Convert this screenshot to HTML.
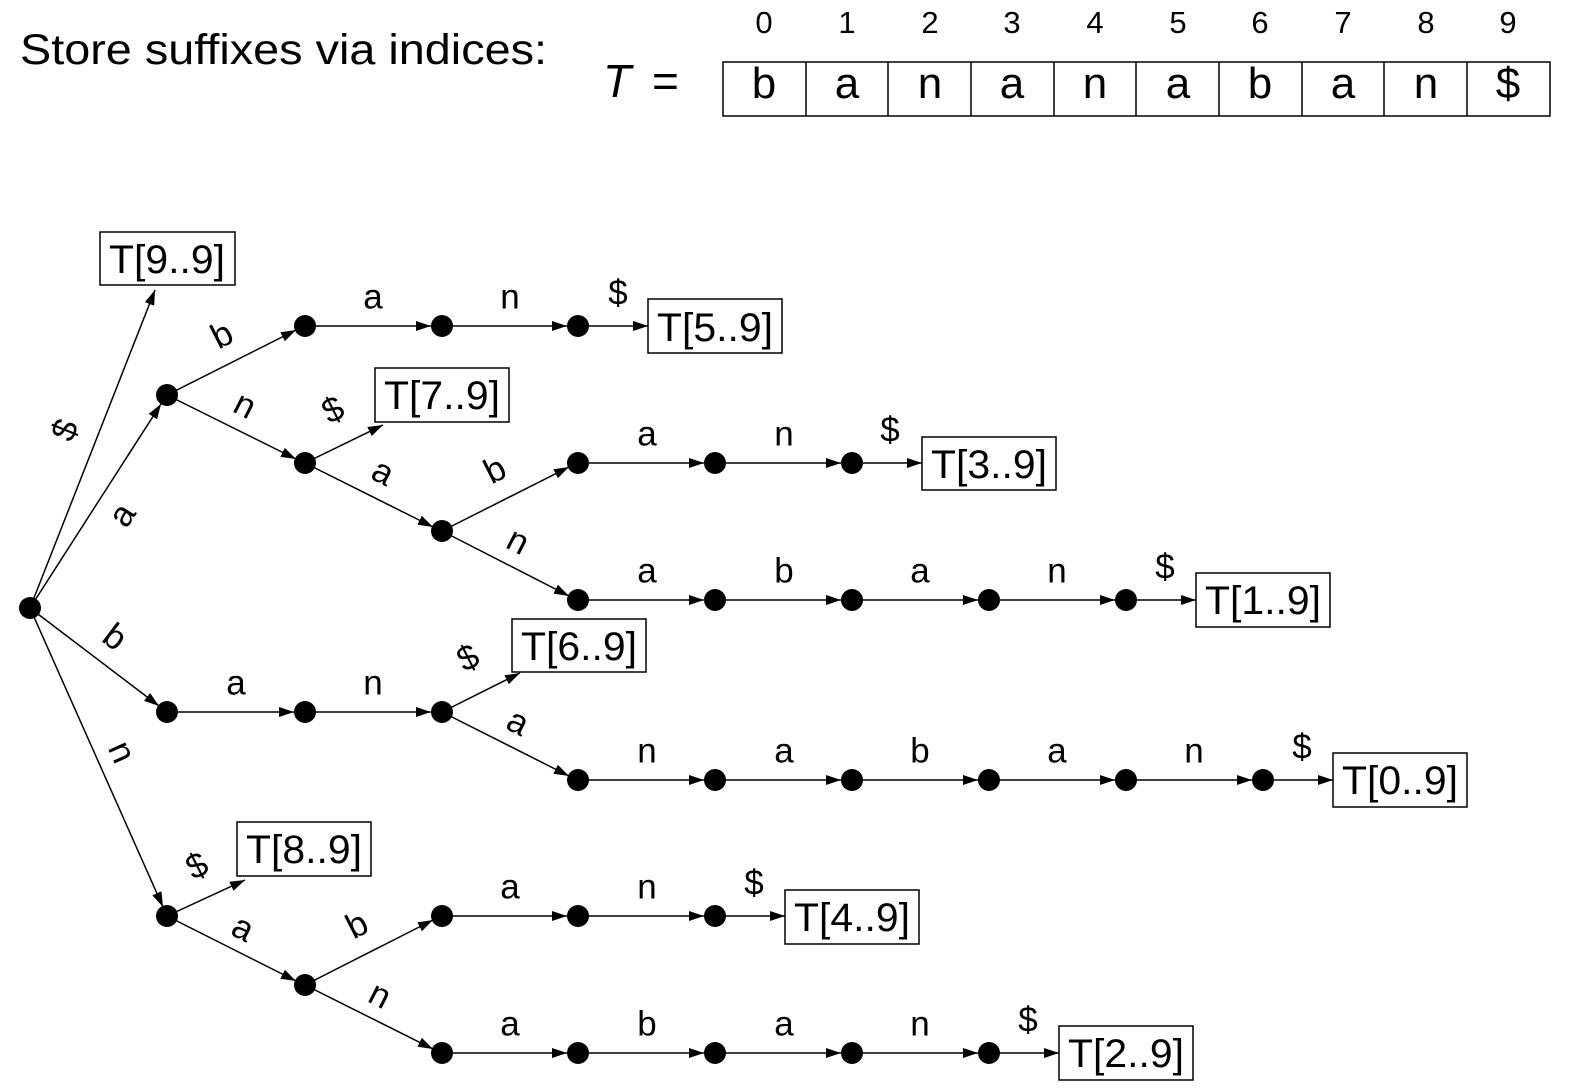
<!DOCTYPE html>
<html><head><meta charset="utf-8"><style>
html,body{margin:0;padding:0;background:#fff}
svg{display:block}
text{font-family:"Liberation Sans","DejaVu Sans",sans-serif;fill:#000}
</style></head><body>
<svg width="1572" height="1092" viewBox="0 0 1572 1092" xmlns="http://www.w3.org/2000/svg">
<defs><marker id="ar" markerUnits="userSpaceOnUse" markerWidth="16" markerHeight="10" refX="15" refY="5" orient="auto"><path d="M0,0 L15,5 L0,10 z" fill="#000"/></marker></defs>
<text x="20" y="64" font-size="43" textLength="527" lengthAdjust="spacingAndGlyphs">Store suffixes via indices:</text>
<text x="603" y="97" font-size="46" font-style="italic">T</text>
<text x="652" y="97" font-size="46">=</text>
<g stroke="#000" stroke-width="1.5" fill="none">
<rect x="723" y="62" width="827" height="54"/>
<line x1="806" y1="62" x2="806" y2="116"/><line x1="888" y1="62" x2="888" y2="116"/><line x1="971" y1="62" x2="971" y2="116"/><line x1="1054" y1="62" x2="1054" y2="116"/><line x1="1136" y1="62" x2="1136" y2="116"/><line x1="1219" y1="62" x2="1219" y2="116"/><line x1="1302" y1="62" x2="1302" y2="116"/><line x1="1384" y1="62" x2="1384" y2="116"/><line x1="1467" y1="62" x2="1467" y2="116"/>
</g>
<g font-size="31" text-anchor="middle">
<text x="764" y="33">0</text><text x="847" y="33">1</text><text x="930" y="33">2</text><text x="1012" y="33">3</text><text x="1095" y="33">4</text><text x="1178" y="33">5</text><text x="1260" y="33">6</text><text x="1343" y="33">7</text><text x="1426" y="33">8</text><text x="1508" y="33">9</text>
</g>
<g font-size="44" text-anchor="middle">
<text x="764" y="98">b</text><text x="847" y="98">a</text><text x="930" y="98">n</text><text x="1012" y="98">a</text><text x="1095" y="98">n</text><text x="1178" y="98">a</text><text x="1260" y="98">b</text><text x="1343" y="98">a</text><text x="1426" y="98">n</text><text x="1508" y="98">$</text>
</g>

<g stroke="#000" stroke-width="1.5" fill="#fff">
<rect x="100" y="232" width="135" height="53"/>
<rect x="648" y="299" width="134" height="54"/>
<rect x="375" y="368" width="134" height="54"/>
<rect x="922" y="437" width="134" height="53"/>
<rect x="1196" y="573" width="134" height="54"/>
<rect x="512" y="619" width="134" height="53"/>
<rect x="1333" y="753" width="134" height="54"/>
<rect x="237" y="822" width="134" height="54"/>
<rect x="785" y="890" width="134" height="54"/>
<rect x="1059" y="1026" width="134" height="54"/>
</g>
<g font-size="40" text-anchor="middle">
<text x="167" y="273" textLength="116" lengthAdjust="spacingAndGlyphs">T[9..9]</text>
<text x="715" y="341" textLength="116" lengthAdjust="spacingAndGlyphs">T[5..9]</text>
<text x="442" y="409" textLength="116" lengthAdjust="spacingAndGlyphs">T[7..9]</text>
<text x="989" y="478" textLength="116" lengthAdjust="spacingAndGlyphs">T[3..9]</text>
<text x="1263" y="614" textLength="116" lengthAdjust="spacingAndGlyphs">T[1..9]</text>
<text x="579" y="660" textLength="116" lengthAdjust="spacingAndGlyphs">T[6..9]</text>
<text x="1400" y="794" textLength="116" lengthAdjust="spacingAndGlyphs">T[0..9]</text>
<text x="304" y="863" textLength="116" lengthAdjust="spacingAndGlyphs">T[8..9]</text>
<text x="852" y="931" textLength="116" lengthAdjust="spacingAndGlyphs">T[4..9]</text>
<text x="1126" y="1067" textLength="116" lengthAdjust="spacingAndGlyphs">T[2..9]</text>
</g>

<g stroke="#000" stroke-width="1.5" marker-end="url(#ar)">
<line x1="30" y1="608" x2="155" y2="290"/>
<line x1="30" y1="608" x2="161" y2="404"/>
<line x1="30" y1="608" x2="159" y2="706"/>
<line x1="30" y1="608" x2="163" y2="907"/>
<line x1="167" y1="395" x2="296" y2="330"/>
<line x1="167" y1="395" x2="296" y2="459"/>
<line x1="305" y1="463" x2="383" y2="425"/>
<line x1="305" y1="463" x2="433" y2="527"/>
<line x1="442" y1="531" x2="569" y2="467"/>
<line x1="442" y1="531" x2="569" y2="596"/>
<line x1="442" y1="712" x2="520" y2="673"/>
<line x1="442" y1="712" x2="569" y2="776"/>
<line x1="167" y1="916" x2="245" y2="880"/>
<line x1="167" y1="916" x2="296" y2="981"/>
<line x1="305" y1="985" x2="433" y2="920"/>
<line x1="305" y1="985" x2="433" y2="1049"/>
<line x1="305" y1="326" x2="431" y2="326"/><line x1="442" y1="326" x2="567" y2="326"/><line x1="578" y1="326" x2="648" y2="326"/>
<line x1="578" y1="463" x2="704" y2="463"/><line x1="715" y1="463" x2="841" y2="463"/><line x1="852" y1="463" x2="922" y2="463"/>
<line x1="578" y1="600" x2="704" y2="600"/><line x1="715" y1="600" x2="841" y2="600"/><line x1="852" y1="600" x2="978" y2="600"/><line x1="989" y1="600" x2="1115" y2="600"/><line x1="1126" y1="600" x2="1196" y2="600"/>
<line x1="167" y1="712" x2="294" y2="712"/><line x1="305" y1="712" x2="431" y2="712"/>
<line x1="578" y1="780" x2="704" y2="780"/><line x1="715" y1="780" x2="841" y2="780"/><line x1="852" y1="780" x2="978" y2="780"/><line x1="989" y1="780" x2="1115" y2="780"/><line x1="1126" y1="780" x2="1252" y2="780"/><line x1="1263" y1="780" x2="1333" y2="780"/>
<line x1="442" y1="916" x2="567" y2="916"/><line x1="578" y1="916" x2="704" y2="916"/><line x1="715" y1="916" x2="785" y2="916"/>
<line x1="442" y1="1053" x2="567" y2="1053"/><line x1="578" y1="1053" x2="704" y2="1053"/><line x1="715" y1="1053" x2="841" y2="1053"/><line x1="852" y1="1053" x2="978" y2="1053"/><line x1="989" y1="1053" x2="1059" y2="1053"/>
</g>

<g fill="#000">
<circle cx="30" cy="608" r="11"/>
<circle cx="167" cy="395" r="11"/><circle cx="167" cy="712" r="11"/><circle cx="167" cy="916" r="11"/>
<circle cx="305" cy="326" r="11"/><circle cx="442" cy="326" r="11"/><circle cx="578" cy="326" r="11"/>
<circle cx="305" cy="463" r="11"/><circle cx="442" cy="531" r="11"/>
<circle cx="578" cy="463" r="11"/><circle cx="715" cy="463" r="11"/><circle cx="852" cy="463" r="11"/>
<circle cx="578" cy="600" r="11"/><circle cx="715" cy="600" r="11"/><circle cx="852" cy="600" r="11"/><circle cx="989" cy="600" r="11"/><circle cx="1126" cy="600" r="11"/>
<circle cx="305" cy="712" r="11"/><circle cx="442" cy="712" r="11"/>
<circle cx="578" cy="780" r="11"/><circle cx="715" cy="780" r="11"/><circle cx="852" cy="780" r="11"/><circle cx="989" cy="780" r="11"/><circle cx="1126" cy="780" r="11"/><circle cx="1263" cy="780" r="11"/>
<circle cx="305" cy="985" r="11"/><circle cx="442" cy="916" r="11"/><circle cx="578" cy="916" r="11"/><circle cx="715" cy="916" r="11"/>
<circle cx="442" cy="1053" r="11"/><circle cx="578" cy="1053" r="11"/><circle cx="715" cy="1053" r="11"/><circle cx="852" cy="1053" r="11"/><circle cx="989" cy="1053" r="11"/>
</g>

<g font-size="35" text-anchor="middle" dominant-baseline="central">
<text transform="translate(65,430) rotate(-68)">$</text>
<text transform="translate(122,515) rotate(-57)">a</text>
<text transform="translate(115,637) rotate(37)">b</text>
<text transform="translate(122,752) rotate(66)">n</text>
<text transform="translate(222,335) rotate(-27)">b</text>
<text transform="translate(245,405) rotate(27)">n</text>
<text transform="translate(333,410) rotate(-27)">$</text>
<text transform="translate(383,472) rotate(27)">a</text>
<text transform="translate(495,470) rotate(-27)">b</text>
<text transform="translate(518,541) rotate(27)">n</text>
<text transform="translate(468,658) rotate(-27)">$</text>
<text transform="translate(518,722) rotate(27)">a</text>
<text transform="translate(197,866) rotate(-27)">$</text>
<text transform="translate(243,928) rotate(27)">a</text>
<text transform="translate(357,925) rotate(-27)">b</text>
<text transform="translate(380,995) rotate(27)">n</text>

<text x="373" y="297">a</text><text x="510" y="297">n</text><text x="618" y="293">$</text>
<text x="647" y="434">a</text><text x="784" y="434">n</text><text x="890" y="430">$</text>
<text x="647" y="571">a</text><text x="784" y="571">b</text><text x="920" y="571">a</text><text x="1057" y="571">n</text><text x="1165" y="567">$</text>
<text x="236" y="683">a</text><text x="373" y="683">n</text>
<text x="647" y="751">n</text><text x="784" y="751">a</text><text x="920" y="751">b</text><text x="1057" y="751">a</text><text x="1194" y="751">n</text><text x="1302" y="747">$</text>
<text x="510" y="887">a</text><text x="647" y="887">n</text><text x="754" y="883">$</text>
<text x="510" y="1024">a</text><text x="647" y="1024">b</text><text x="784" y="1024">a</text><text x="920" y="1024">n</text><text x="1028" y="1020">$</text>
</g>
</svg>
</body></html>
